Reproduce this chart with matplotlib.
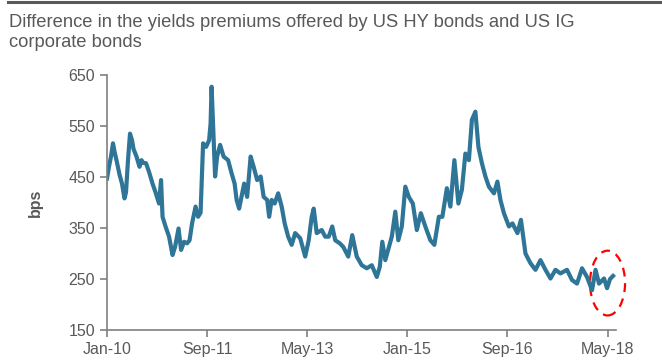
import numpy as np
import matplotlib.pyplot as plt
from matplotlib.patches import Ellipse

# months since Jan-2010 and spread in bps
months = [0.0, 0.4, 0.8, 1.2, 1.5, 1.9, 2.5, 3.0, 3.5, 3.8, 4.2, 4.6, 5.0, 5.3, 5.9,
          6.5, 6.9, 7.2, 7.8, 8.4, 9.1, 9.7, 10.4, 10.8, 11.1, 11.7, 12.4, 13.1, 13.6,
          14.3, 14.8, 15.4, 16.0, 16.5, 17.0, 17.7, 18.2, 18.7, 19.2, 19.8, 20.4, 20.7,
          20.9, 21.3, 21.6, 22.0, 22.6, 23.3, 24.2, 24.9, 25.5, 25.9, 26.4, 27.4, 28.0,
          28.7, 29.3, 30.0, 30.7, 31.3, 32.0, 32.4, 32.9, 33.5, 34.2, 34.9, 35.5, 36.2,
          36.9, 37.6, 38.6, 39.6, 40.3, 40.9, 41.3, 41.9, 42.9, 43.6, 44.3, 45.0, 45.6,
          46.5, 47.2, 48.2, 49.0, 49.9, 50.9, 51.9, 52.9, 53.9, 54.5, 55.0, 55.6, 56.9,
          57.6, 58.2, 58.9, 59.6, 60.3, 61.1, 61.9, 62.7, 63.6, 64.6, 65.4, 66.3, 67.0,
          67.9, 68.6, 69.4, 70.2, 70.9, 71.6, 72.3, 72.9, 73.6, 74.2, 74.9, 75.6, 76.3,
          77.3, 78.0, 78.6, 79.3, 80.3, 81.0, 82.0, 82.7, 83.6, 84.6, 85.6, 86.6, 87.6,
          88.6, 89.6, 90.6, 91.9, 92.9, 93.9, 94.9, 95.9, 96.9, 97.6, 98.3, 99.3, 99.9,
          100.5, 101.1]
spread = [447, 470, 490, 516, 500, 483, 455, 437, 408, 420, 483, 535, 522, 505, 490,
          470, 483, 478, 477, 460, 437, 420, 398, 444, 372, 353, 333, 297, 313,
          349, 307, 323, 320, 326, 359, 392, 372, 380, 516, 509, 522, 555,
          627, 529, 451, 490, 513, 490, 483, 457, 437, 405, 388, 437, 411,
          490, 470, 444, 451, 411, 405, 372, 405, 398, 418, 392, 359, 333,
          317, 340, 330, 294, 326, 372, 388, 340, 346, 333, 333, 353, 326,
          320, 313, 294, 336, 294, 277, 271, 277, 254, 274, 323, 287, 333,
          382, 326, 353, 431, 411, 398, 346, 379, 353, 326, 317, 372, 372,
          428, 392, 483, 398, 425, 496, 483, 562, 578, 509, 477, 451, 431,
          418, 441, 405, 379, 353, 359, 340, 366, 300, 281, 268, 287, 268,
          251, 268, 261, 268, 248, 241, 271, 254, 228, 268, 241, 251, 232,
          250, 256]

tick_pos = [0, 20, 40, 60, 80, 100]
tick_labels = ['Jan-10', 'Sep-11', 'May-13', 'Jan-15', 'Sep-16', 'May-18']
yticks = [150, 250, 350, 450, 550, 650]

plt.rcParams['font.family'] = ['Liberation Sans', 'DejaVu Sans']
grey = '#595959'

fig = plt.figure(figsize=(6.62, 3.6), dpi=100)
ax = fig.add_axes([0.1616, 0.0833, 0.769, 0.7084])

ax.plot(months, spread, color='#2E7598', linewidth=3.0, solid_joinstyle='round')
ax.add_patch(Ellipse((100.0, 242), 7.0, 127, fill=False, edgecolor='red',
                     linestyle=(0, (4, 3)), linewidth=1.6, clip_on=False))

ax.set_xlim(0, 101.7)
ax.set_ylim(150, 650)
ax.set_xticks(tick_pos)
ax.set_xticklabels(tick_labels)
ax.set_yticks(yticks)
ax.set_ylabel('bps', fontsize=11.5, fontweight='bold', color=grey, labelpad=18)

for s in ['top', 'right']:
    ax.spines[s].set_visible(False)
for s in ['left', 'bottom']:
    ax.spines[s].set_color('#7f7f7f')
    ax.spines[s].set_linewidth(1.2)
ax.tick_params(colors='#7f7f7f', labelcolor=grey, labelsize=11.5, length=5, width=1.2)

fig.text(0.013, 0.96, 'Difference in the yields premiums offered by US HY bonds and US IG\ncorporate bonds',
         fontsize=13.2, color=grey, va='top', ha='left', linespacing=1.2)
fig.add_artist(plt.Line2D([0.012, 1], [0.995, 0.995], color='#595959', linewidth=2.2,
                          transform=fig.transFigure))

fig.savefig('out.png', dpi=100)
